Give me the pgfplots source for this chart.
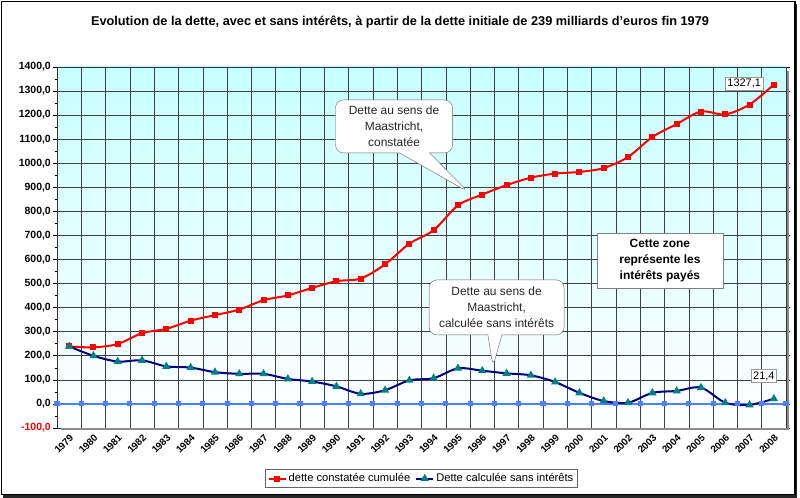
\documentclass[border=0pt]{standalone}
\usepackage{pgfplots}
\pgfplotsset{compat=1.18}
\usepackage{fontspec}
\setmainfont{Liberation Sans}
\usetikzlibrary{shapes.callouts}

\definecolor{redline}{RGB}{255,0,0}
\definecolor{navyline}{RGB}{0,0,128}
\definecolor{tealmark}{RGB}{0,128,128}
\definecolor{zeroblue}{RGB}{77,128,255}
\definecolor{bgcyan}{RGB}{200,255,255}

\begin{document}
\begin{tikzpicture}[x=1bp,y=1bp]
\useasboundingbox (0,0) rectangle (800,498);
% chart frame with its shadow
\fill[black!85] (3,0) rectangle (797,494);
\filldraw[fill=white, draw=black, line width=1.2bp] (1.5,3.5) rectangle (795,496.5);
\node[font=\fontsize{12.8}{14}\selectfont\bfseries] at (400,476)
  {Evolution de la dette, avec et sans intérêts, à partir de la dette initiale de 239 milliards d'euros fin 1979};

\begin{axis}[
  at={(57bp,70bp)}, anchor=south west, scale only axis,
  width=729bp, height=361bp,
  clip=false,
  xmin=-0.5, xmax=29.5, ymin=-100, ymax=1400,
  xtick={0,...,29},
  xticklabel={\pgfmathtruncatemacro\yr{1979+\tick}\yr},
  minor xtick={-0.5,0.5,...,29.5},
  xminorgrids=true,
  xtick style={draw=none},
  ytick={-100,0,...,1400},
  minor ytick={-50,50,...,1350},
  ymajorgrids=true,
  yticklabels={{\textcolor{red}{-100,0}},{0,0},{100,0},{200,0},{300,0},{400,0},{500,0},{600,0},{700,0},{800,0},{900,0},{1000,0},{1100,0},{1200,0},{1300,0},{1400,0}},
  tick align=outside,
  major tick length=4bp, minor tick length=2.5bp,
  ytick style={black, line width=0.6bp},
  yticklabel style={font=\fontsize{10.5}{12}\selectfont\bfseries, inner sep=2pt},
  xticklabel style={font=\fontsize{9.8}{11}\selectfont\bfseries, rotate=45, anchor=north east, inner sep=1pt},
  grid style={black!75, line width=0.6bp},
  minor grid style={black!75, line width=0.6bp},
  axis line style={black!80, line width=0.8bp},
  axis background/.style={shade, top color=bgcyan, bottom color=white},
  legend style={at={(0.5,-0.14)}, anchor=center, legend columns=2,
    draw=black!60, fill=white, inner sep=2bp,
    font=\fontsize{11.2}{13}\selectfont,
    /tikz/every even column/.append style={column sep=3bp}},
]
% axis line at zero, with its ticks between categories
\addplot[zeroblue, line width=2.5bp, mark=square*, mark size=1.3bp, mark options={solid, fill=zeroblue}, forget plot] coordinates {
(-0.5,0) (0.5,0) (1.5,0) (2.5,0) (3.5,0) (4.5,0) (5.5,0) (6.5,0) (7.5,0) (8.5,0)
(9.5,0) (10.5,0) (11.5,0) (12.5,0) (13.5,0) (14.5,0) (15.5,0) (16.5,0) (17.5,0) (18.5,0)
(19.5,0) (20.5,0) (21.5,0) (22.5,0) (23.5,0) (24.5,0) (25.5,0) (26.5,0) (27.5,0) (28.5,0) (29.5,0)};

\addplot[redline, line width=2bp, smooth, tension=0.5, mark=square*, mark size=2bp,
  mark options={solid, fill=redline}] coordinates {
(0,239) (1,235) (2,249) (3,294) (4,312) (5,346) (6,369) (7,392) (8,431) (9,451)
(10,482) (11,510) (12,521) (13,580) (14,666) (15,722) (16,825) (17,870) (18,909) (19,940)
(20,957) (21,964) (22,980) (23,1026) (24,1109) (25,1163) (26,1215) (27,1203) (28,1244) (29,1327.1)};

\addplot[navyline, line width=2bp, smooth, tension=0.5, mark=triangle*, mark size=2.8bp,
  mark options={solid, fill=tealmark, draw=tealmark}] coordinates {
(0,239) (1,200) (2,176) (3,181) (4,156) (5,151) (6,132) (7,125) (8,125) (9,104)
(10,93) (11,73) (12,42) (13,57) (14,98) (15,107) (16,148) (17,138) (18,127) (19,119)
(20,91) (21,46) (22,12) (23,5) (24,46) (25,54) (26,68) (27,5) (28,-4) (29,21.4)};

\legend{dette constatée cumulée, Dette calculée sans intérêts}

% shadow of the plot area
\draw[black!45, line width=2bp] (rel axis cs:1.0025,0.99) -- (rel axis cs:1.0025,-0.0035) -- (rel axis cs:0.005,-0.0035);

\node[rectangle callout, rounded corners=8bp, draw=black!60, fill=white, align=center,
  minimum width=117bp, minimum height=53bp, text=black!85,
  font=\fontsize{12}{16}\selectfont, callout pointer width=30bp,
  callout absolute pointer={(axis cs:16.42,881)}]
  at (axis cs:13.37,1153) {Dette au sens de\\Maastricht,\\constatée};

\node[rectangle callout, rounded corners=8bp, draw=black!60, fill=white, align=center,
  minimum width=135bp, minimum height=55bp, text=black!85,
  font=\fontsize{12}{16}\selectfont, callout pointer width=14bp,
  callout absolute pointer={(axis cs:17.44,155)}]
  at (axis cs:17.59,401) {Dette au sens de\\Maastricht,\\calculée sans intérêts};

\node[draw=black!50, fill=white, align=center, minimum width=126bp, minimum height=55bp,
  font=\fontsize{12}{16}\selectfont\bfseries]
  at (axis cs:24.31,596) {Cette zone\\représente les\\intérêts payés};

\node[draw=black!40, fill=white, inner sep=2bp, font=\fontsize{11}{12}\selectfont]
  at (axis cs:27.78,1331) {1327,1};
\node[draw=black!40, fill=white, inner sep=2bp, font=\fontsize{11}{12}\selectfont]
  at (axis cs:28.59,116) {21,4};
\end{axis}
\end{tikzpicture}
\end{document}
